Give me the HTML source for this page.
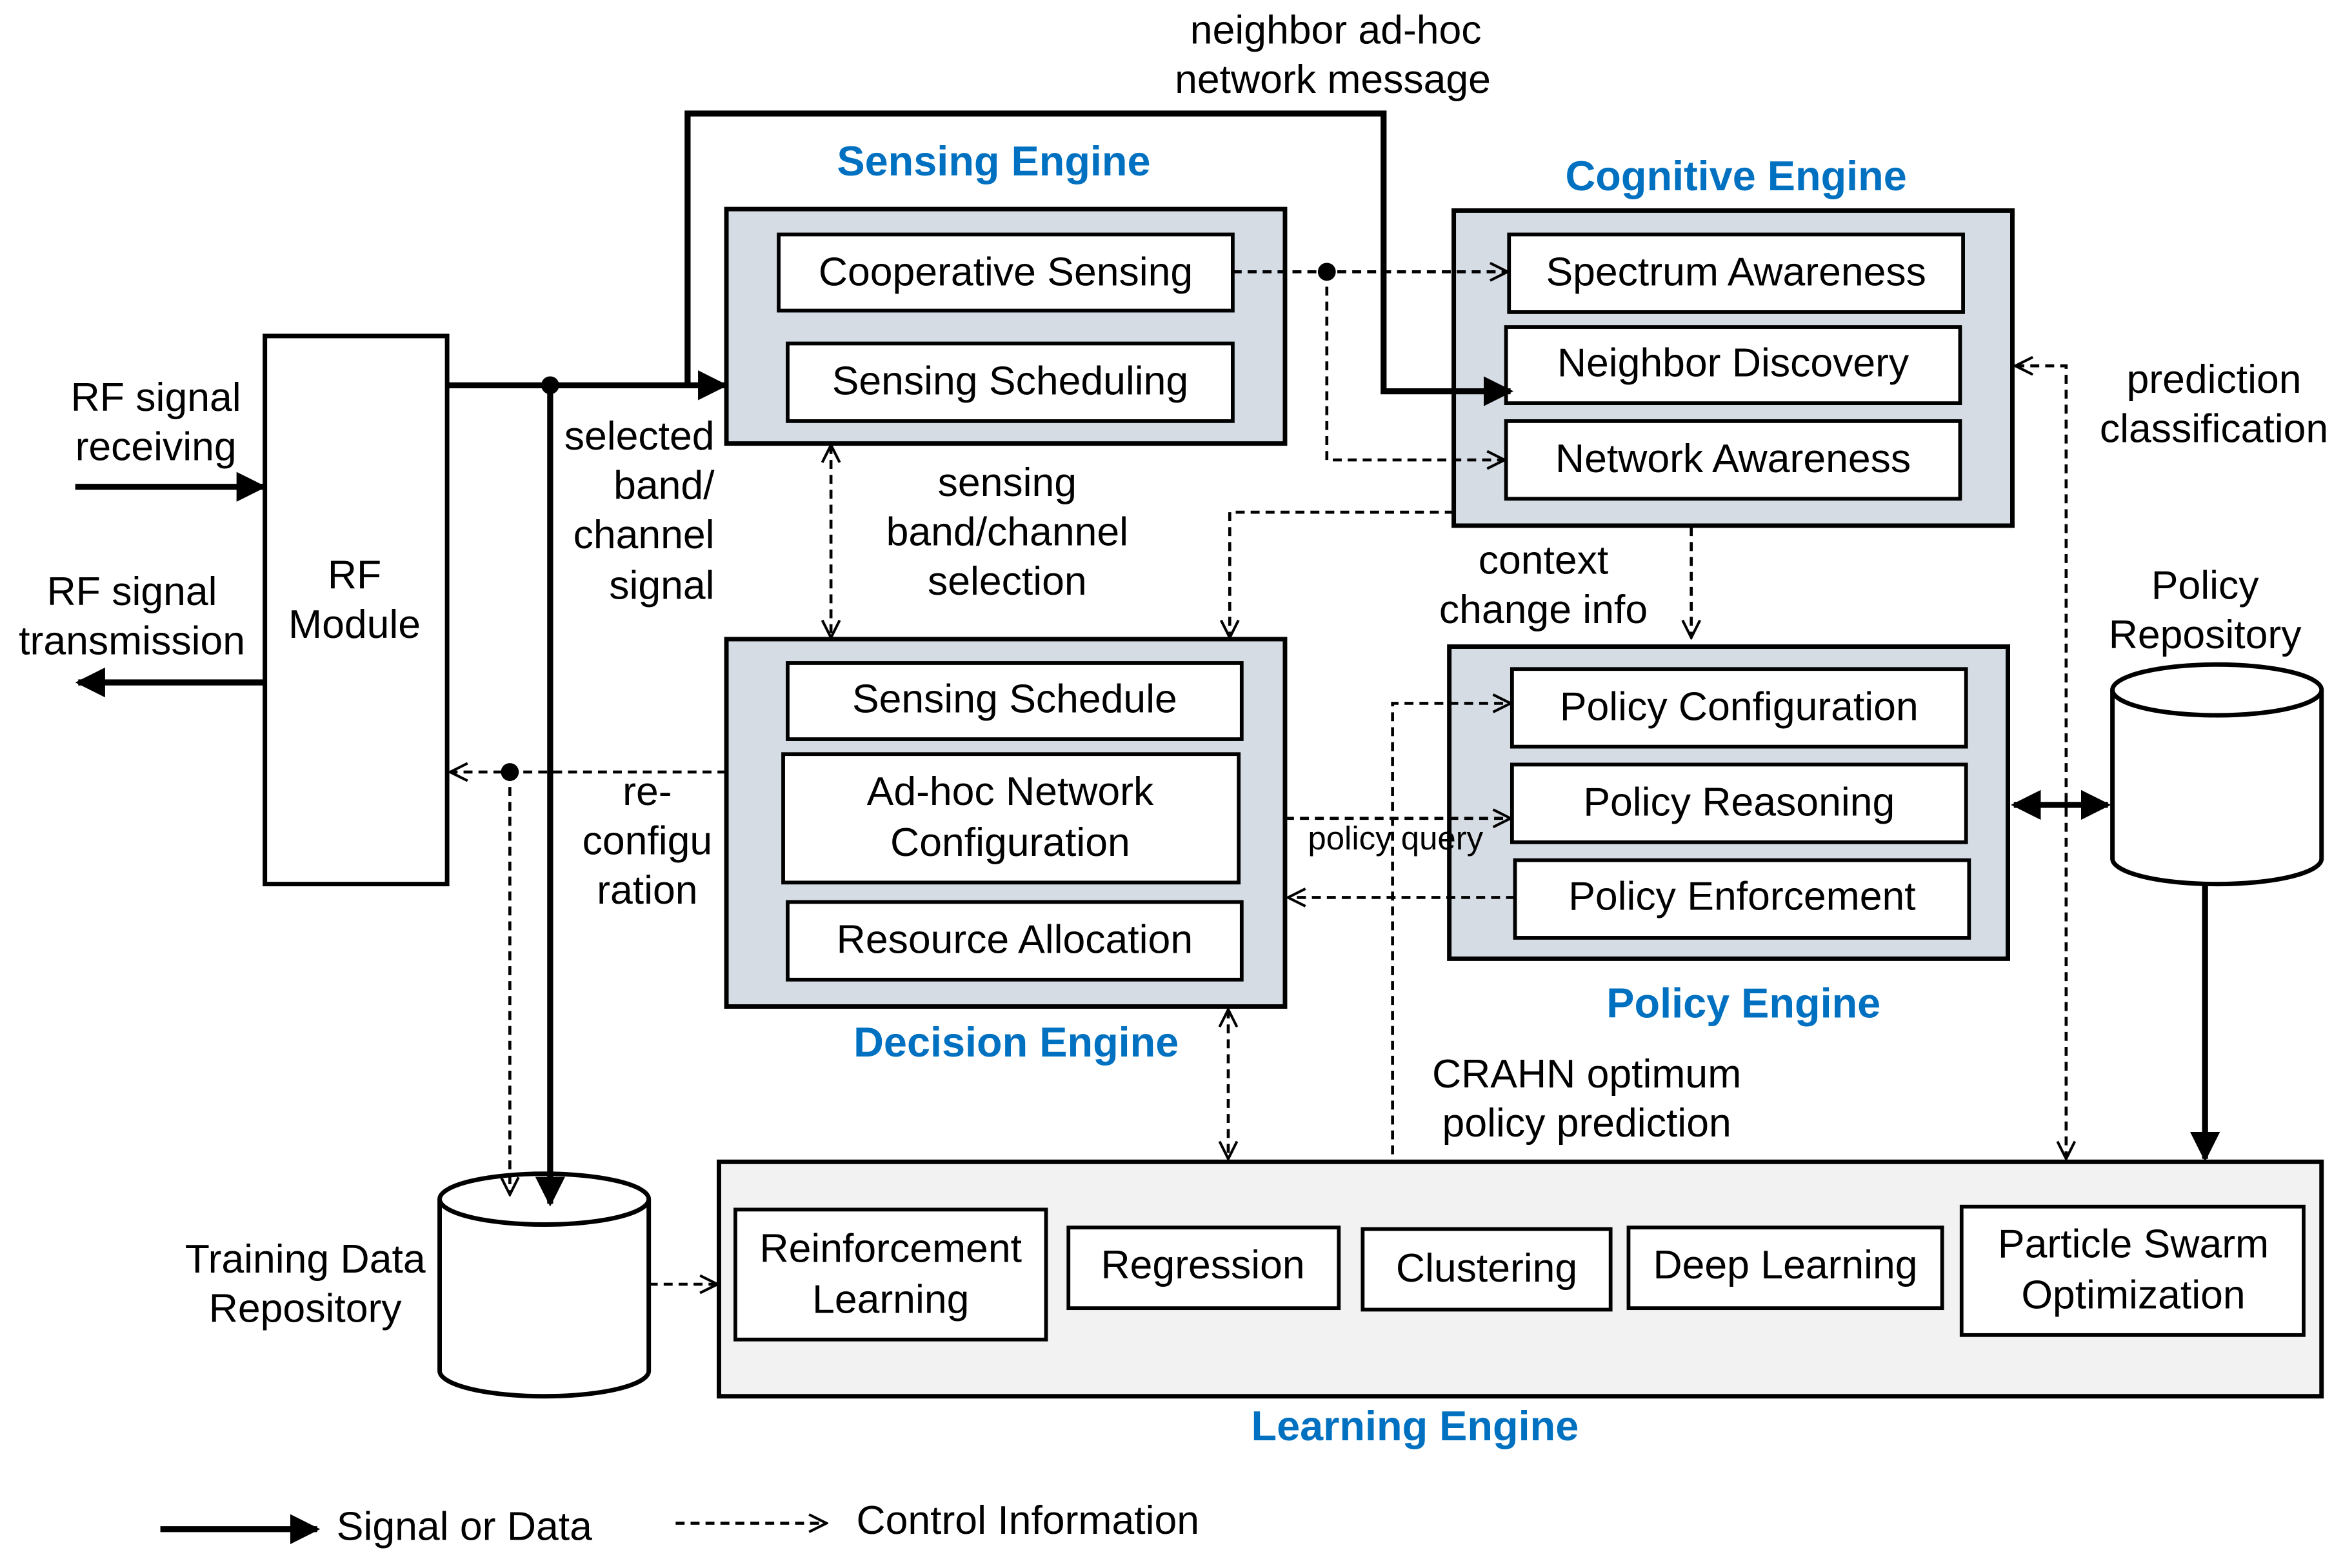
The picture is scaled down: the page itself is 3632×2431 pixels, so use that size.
<!DOCTYPE html>
<html><head><meta charset="utf-8"><style>
html,body{margin:0;padding:0;background:#fff;}
svg{display:block;}
text{font-family:"Liberation Sans",sans-serif;font-size:27px;fill:#000;}
.t{fill:#0070C0;font-weight:bold;font-size:28px;}
</style></head><body>
<svg width="3632" height="2431" viewBox="0 0 1568 1050" xmlns="http://www.w3.org/2000/svg">
<defs>
<marker id="f" viewBox="0 0 10 10" refX="9" refY="5" markerWidth="5" markerHeight="5" orient="auto-start-reverse"><path d="M0,0 L10,5 L0,10 z" fill="#000"/></marker>
<marker id="o" viewBox="0 0 12 12" refX="11" refY="6" markerWidth="14" markerHeight="14" markerUnits="userSpaceOnUse" orient="auto-start-reverse"><path d="M1,1 L11,6 L1,11" fill="none" stroke="#000" stroke-width="1.5"/></marker>
</defs>
<g fill="none" stroke="#000">
<!-- engine boxes -->
<rect x="486" y="140" width="374" height="157" fill="#d6dce4" stroke-width="3"/>
<rect x="973" y="141" width="374" height="211" fill="#d6dce4" stroke-width="3"/>
<rect x="486" y="428" width="374" height="246" fill="#d6dce4" stroke-width="3"/>
<rect x="970" y="433" width="374" height="209" fill="#d6dce4" stroke-width="3"/>
<rect x="481" y="778" width="1073" height="157" fill="#f2f2f2" stroke-width="3"/>
<rect x="177" y="225" width="122" height="367" fill="#fff" stroke-width="3"/>
<g fill="#fff" stroke-width="2.5">
<rect x="521" y="157" width="304" height="51"/>
<rect x="527" y="230" width="298" height="52"/>
<rect x="1010" y="157" width="304" height="52"/>
<rect x="1008" y="219" width="304" height="51"/>
<rect x="1008" y="282" width="304" height="52"/>
<rect x="527" y="444" width="304" height="51"/>
<rect x="524" y="505" width="305" height="86"/>
<rect x="527" y="604" width="304" height="52"/>
<rect x="1012" y="448" width="304" height="52"/>
<rect x="1012" y="512" width="304" height="52"/>
<rect x="1014" y="576" width="304" height="52"/>
<rect x="492" y="810" width="208" height="87"/>
<rect x="715" y="822" width="181" height="54"/>
<rect x="912" y="823" width="166" height="54"/>
<rect x="1090" y="822" width="210" height="54"/>
<rect x="1313" y="808" width="229" height="86"/>
</g>
<!-- cylinders -->
<path d="M1414,462 L1414,575 A70,17 0 0 0 1554,575 L1554,462" fill="#fff" stroke-width="3"/>
<ellipse cx="1484" cy="462" rx="70" ry="17" fill="#fff" stroke-width="3"/>
<path d="M294,803 L294,918 A70,17 0 0 0 434,918 L434,803" fill="#fff" stroke-width="3"/>
<ellipse cx="364" cy="803" rx="70" ry="17" fill="#fff" stroke-width="3"/>
<!-- thick lines -->
<g stroke-width="4">
<line x1="50" y1="326" x2="176" y2="326" marker-end="url(#f)"/>
<line x1="177" y1="457" x2="52" y2="457" marker-end="url(#f)"/>
<line x1="299" y1="258" x2="485" y2="258" marker-end="url(#f)"/>
<line x1="368" y1="258" x2="368" y2="806" marker-end="url(#f)"/>
<polyline points="460,258 460,76 926,76 926,262 1011,262" marker-end="url(#f)"/>
<line x1="1348" y1="539" x2="1411" y2="539" marker-start="url(#f)" marker-end="url(#f)"/>
<line x1="1476" y1="592" x2="1476" y2="776" marker-end="url(#f)"/>
<line x1="107" y1="1024" x2="212" y2="1024" marker-end="url(#f)"/>
</g>
<!-- dashed lines -->
<g stroke-width="2" stroke-dasharray="6,4">
<line x1="825" y1="182" x2="1009" y2="182" marker-end="url(#o)"/>
<polyline points="888,182 888,308 1007,308" marker-end="url(#o)"/>
<line x1="556" y1="298" x2="556" y2="427" marker-start="url(#o)" marker-end="url(#o)"/>
<polyline points="973,343 823,343 823,427" marker-end="url(#o)"/>
<line x1="1132" y1="353" x2="1132" y2="427" marker-end="url(#o)"/>
<line x1="486" y1="517" x2="301" y2="517" marker-end="url(#o)"/>
<line x1="341" y1="517" x2="341" y2="800" marker-end="url(#o)"/>
<line x1="860" y1="548" x2="1011" y2="548" marker-end="url(#o)"/>
<line x1="1014" y1="601" x2="862" y2="601" marker-end="url(#o)"/>
<polyline points="932,773 932,471 1011,471" marker-end="url(#o)"/>
<line x1="822" y1="676" x2="822" y2="776" marker-start="url(#o)" marker-end="url(#o)"/>
<polyline points="1349,245 1383,245 1383,776" marker-start="url(#o)" marker-end="url(#o)"/>
<line x1="434" y1="860" x2="480" y2="860" marker-end="url(#o)"/>
<line x1="452" y1="1020" x2="553" y2="1020" marker-end="url(#o)"/>
</g>
</g>
<circle cx="368" cy="258" r="6"/>
<circle cx="888" cy="182" r="6"/>
<circle cx="341" cy="517" r="6"/>
<g text-anchor="middle" dominant-baseline="middle">
<text class="t" x="665" y="110">Sensing Engine</text>
<text class="t" x="1162" y="120">Cognitive Engine</text>
<text class="t" x="680" y="700">Decision Engine</text>
<text class="t" x="1167" y="674">Policy Engine</text>
<text class="t" x="947" y="957">Learning Engine</text>
<text x="673" y="184">Cooperative Sensing</text>
<text x="676" y="257">Sensing Scheduling</text>
<text x="1162" y="184">Spectrum Awareness</text>
<text x="1160" y="245">Neighbor Discovery</text>
<text x="1160" y="309">Network Awareness</text>
<text x="679" y="470">Sensing Schedule</text>
<text x="676" y="532">Ad-hoc Network</text>
<text x="676" y="566">Configuration</text>
<text x="679" y="631">Resource Allocation</text>
<text x="1164" y="475">Policy Configuration</text>
<text x="1164" y="539">Policy Reasoning</text>
<text x="1166" y="602">Policy Enforcement</text>
<text x="596" y="838">Reinforcement</text>
<text x="596" y="872">Learning</text>
<text x="805" y="849">Regression</text>
<text x="995" y="851">Clustering</text>
<text x="1195" y="849">Deep Learning</text>
<text x="1428" y="835">Particle Swarm</text>
<text x="1428" y="869">Optimization</text>
<text x="237" y="387">RF</text>
<text x="237" y="420">Module</text>
<text x="104" y="268">RF signal</text>
<text x="104" y="301">receiving</text>
<text x="88" y="398">RF signal</text>
<text x="88" y="431">transmission</text>
<text x="894" y="22">neighbor ad-hoc</text>
<text x="892" y="55">network message</text>
<text x="674" y="325">sensing</text>
<text x="674" y="358">band/channel</text>
<text x="674" y="391">selection</text>
<text x="1033" y="377">context</text>
<text x="1033" y="410">change info</text>
<text x="433" y="532">re-</text>
<text x="433" y="565">configu</text>
<text x="433" y="598">ration</text>
<text x="934" y="563" style="font-size:22px">policy query</text>
<text x="1062" y="721">CRAHN optimum</text>
<text x="1062" y="754">policy prediction</text>
<text x="1482" y="256">prediction</text>
<text x="1482" y="289">classification</text>
<text x="1476" y="394">Policy</text>
<text x="1476" y="427">Repository</text>
<text x="204" y="845">Training Data</text>
<text x="204" y="878">Repository</text>
</g>
<g text-anchor="end" dominant-baseline="middle">
<text x="478" y="294">selected</text>
<text x="478" y="327">band/</text>
<text x="478" y="360">channel</text>
<text x="478" y="394">signal</text>
</g>
<g dominant-baseline="middle">
<text x="225" y="1024">Signal or Data</text>
<text x="573" y="1020">Control Information</text>
</g>
</svg>
</body></html>
